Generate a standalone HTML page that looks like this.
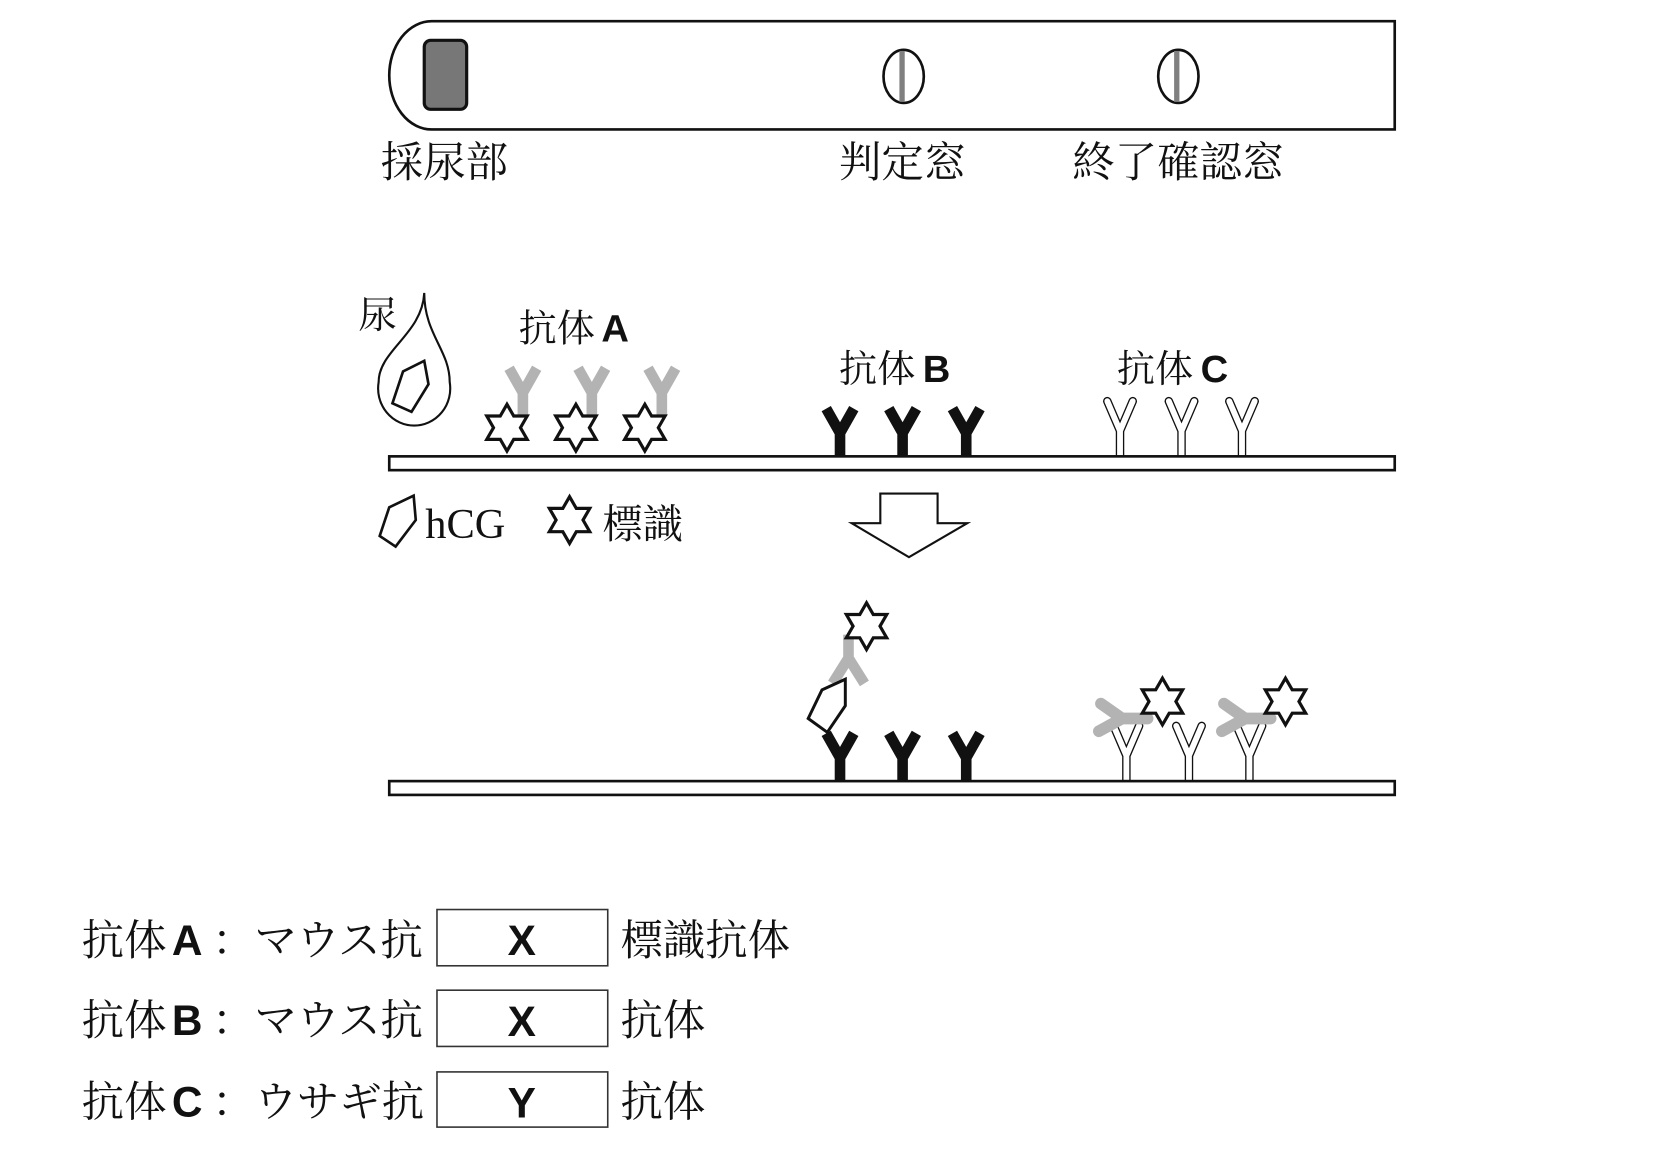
<!DOCTYPE html>
<html><head><meta charset="utf-8"><style>
html,body{margin:0;padding:0;background:#fff}
svg{display:block}
.s{font-family:"Liberation Serif","Noto Serif CJK SC","Noto Sans CJK JP",serif;fill:#111}
.b{font-family:"Liberation Sans",sans-serif;font-weight:bold;fill:#111}
</style></head><body>
<svg width="1662" height="1160" viewBox="0 0 1567 1093" preserveAspectRatio="none" xmlns="http://www.w3.org/2000/svg">
<defs>
<path id="st" d="M0,-22 L6.35,-11 L19.05,-11 L12.7,0 L19.05,11 L6.35,11 L0,22 L-6.35,11 L-19.05,11 L-12.7,0 L-19.05,-11 L-6.35,-11Z" fill="#fff" stroke="#111" stroke-width="3" stroke-linejoin="miter"/>
<g id="yb"><path d="M0,0 V-24 M0,-22 L-13,-45 M0,-22 L13,-45" stroke="#111" stroke-width="10" fill="none"/></g>
<g id="yg"><path d="M0,0 V-24 M0,-22 L-13,-45 M0,-22 L13,-45" stroke="#b3b3b3" stroke-width="10" fill="none"/></g>
<g id="yo"><path d="M0,0 V-26 M0,-24 L-12,-52 M0,-24 L12,-52" stroke="#111" stroke-width="8" fill="none" stroke-linecap="round"/><path d="M0,1 V-26 M0,-24 L-12,-52 M0,-24 L12,-52" stroke="#fff" stroke-width="5.5" fill="none" stroke-linecap="round"/></g>
<g id="yt"><path d="M0,0 H-26 M-24,0 L-44,-14 M-24,0 L-46,12" stroke="#b3b3b3" stroke-width="11" fill="none" stroke-linecap="round"/></g>
</defs>

<path d="M407,20 H1315 V122 H407 A40,51 0 0 1 367,71 A40,51 0 0 1 407,20Z" fill="#fff" stroke="#111" stroke-width="2.5"/>
<rect x="400" y="38" width="40" height="65" rx="6" fill="#777" stroke="#111" stroke-width="3"/>
<ellipse cx="852" cy="72" rx="19" ry="25" fill="#fff" stroke="#111" stroke-width="2.5"/>
<rect x="848" y="48" width="5" height="48" fill="#808080"/>
<ellipse cx="1111" cy="72" rx="19" ry="25" fill="#fff" stroke="#111" stroke-width="2.5"/>
<rect x="1107" y="48" width="5" height="48" fill="#808080"/>
<text class="s" x="359" y="167" font-size="40">採尿部</text>
<text class="s" x="791" y="167" font-size="40">判定窓</text>
<text class="s" x="1011" y="167" font-size="40">終了確認窓</text>

<text class="s" x="338" y="309" font-size="36">尿</text>
<path d="M400,276 C400,315 424,330 424,360 A34,35 0 1 1 357,360 C357,330 398,315 400,276Z" fill="#fff" stroke="#111" stroke-width="2"/>
<path d="M370,380 L380,350 L400,340 L404,362 L388,388Z" fill="none" stroke="#111" stroke-width="2.5"/>
<text class="s" x="489" y="322" font-size="36">抗体</text><text class="b" x="567" y="322" font-size="36">A</text>
<use href="#yg" x="493" y="392"/><use href="#yg" x="558" y="392"/><use href="#yg" x="624" y="392"/>
<use href="#st" x="478" y="403"/><use href="#st" x="543" y="403"/><use href="#st" x="608" y="403"/>
<text class="s" x="791" y="360" font-size="36">抗体</text><text class="b" x="870" y="360" font-size="36">B</text>
<use href="#yb" x="792" y="430"/><use href="#yb" x="851" y="430"/><use href="#yb" x="911" y="430"/>
<text class="s" x="1053" y="360" font-size="36">抗体</text><text class="b" x="1132" y="360" font-size="36">C</text>
<use href="#yo" x="1056" y="430"/><use href="#yo" x="1114" y="430"/><use href="#yo" x="1171" y="430"/>
<rect x="367" y="430" width="948" height="13" fill="#fff" stroke="#111" stroke-width="2.5"/>

<path d="M358,505 L367,478 L390,467 L392,490 L373,515Z" fill="none" stroke="#111" stroke-width="2.5"/>
<text class="s" x="401" y="507" font-size="40">hCG</text>
<use href="#st" x="537" y="490"/>
<text class="s" x="568" y="507" font-size="38">標識</text>

<path d="M830,465 H884 V493 H912 L857,525 L803,493 H830Z" fill="#fff" stroke="#111" stroke-width="2"/>

<use href="#yb" x="792" y="736"/><use href="#yb" x="851" y="736"/><use href="#yb" x="911" y="736"/>
<path d="M800,598 V622 M800,620 L785,644 M800,620 L815,644" stroke="#b3b3b3" stroke-width="10" fill="none"/>
<path d="M762,677 L775,650 L797,640 L797,665 L780,690Z" fill="#fff" stroke="#111" stroke-width="2.8"/>
<use href="#st" x="817" y="590"/>
<use href="#yo" x="1062" y="736"/><use href="#yo" x="1121" y="736"/><use href="#yo" x="1178" y="736"/>
<use href="#yt" x="1082" y="677"/><use href="#yt" x="1198" y="677"/>
<use href="#st" x="1096" y="661"/><use href="#st" x="1212" y="661"/>
<rect x="367" y="736" width="948" height="13" fill="#fff" stroke="#111" stroke-width="2.5"/>

<g font-size="40">
<text class="s" x="77" y="900">抗体</text><text class="b" x="162" y="900">A</text><text class="s" x="200" y="900">：マウス抗</text>
<rect x="412" y="857" width="161" height="53" fill="#fff" stroke="#333" stroke-width="1.5"/>
<text class="b" x="492" y="900" text-anchor="middle" font-weight="normal">X</text>
<text class="s" x="585" y="900">標識抗体</text>
<text class="s" x="77" y="975">抗体</text><text class="b" x="162" y="975">B</text><text class="s" x="200" y="975">：マウス抗</text>
<rect x="412" y="933" width="161" height="53" fill="#fff" stroke="#333" stroke-width="1.5"/>
<text class="b" x="492" y="976" text-anchor="middle" font-weight="normal">X</text>
<text class="s" x="585" y="975">抗体</text>
<text class="s" x="77" y="1052">抗体</text><text class="b" x="162" y="1052">C</text><text class="s" x="200" y="1052">：ウサギ抗</text>
<rect x="412" y="1010" width="161" height="52" fill="#fff" stroke="#333" stroke-width="1.5"/>
<text class="b" x="492" y="1053" text-anchor="middle" font-weight="normal">Y</text>
<text class="s" x="585" y="1052">抗体</text>
</g>
</svg>
</body></html>
